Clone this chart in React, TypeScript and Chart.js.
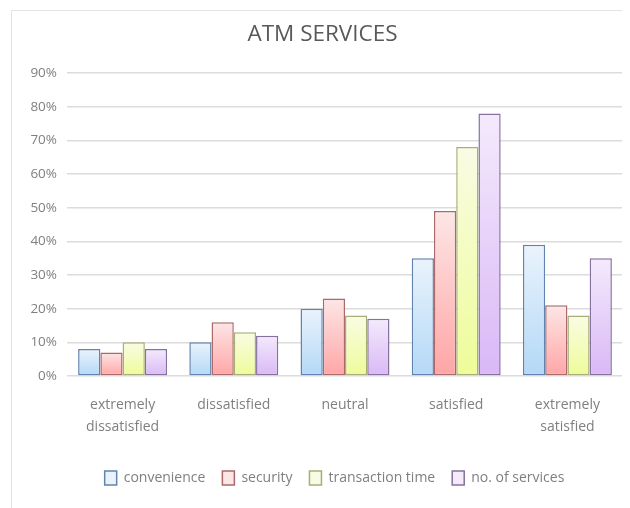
import React, { useEffect, useRef } from "react";
import { Chart, registerables } from "chart.js";

Chart.register(...registerables);

const categories: (string | string[])[] = [
  ["extremely", "dissatisfied"],
  "dissatisfied",
  "neutral",
  "satisfied",
  ["extremely", "satisfied"],
];
const seriesNames = ["convenience", "security", "transaction time", "no. of services"];
const convenience = [8, 10, 20, 35, 39];
const security = [7, 16, 23, 49, 21];
const transactionTime = [10, 13, 18, 68, 18];
const noOfServices = [8, 12, 17, 78, 35];
const yTicks = [0, 10, 20, 30, 40, 50, 60, 70, 80, 90];

const topColors = ["#eaf3fc", "#fde6e6", "#f9fce4", "#f4eafc"];
const bottomColors = ["#b3d8f6", "#ffa5a5", "#eefc98", "#d9b8f6"];
const borderColors = ["#6283ad", "#a86a6a", "#a9ad78", "#85729f"];

const TEXT = "#7f7f7f";
const FONT = "'Open Sans', 'DejaVu Sans', sans-serif";

const legendShift = {
  id: "legendShift",
  afterLayout(chart: any) {
    if (chart.legend) {
      chart.legend.left += 12;
      chart.legend.right += 12;
    }
  },
};

export default function App() {
  const ref = useRef<HTMLCanvasElement>(null);
  useEffect(() => {
    const canvas = ref.current!;
    const seriesData = [convenience, security, transactionTime, noOfServices];
    const gradBg = (i: number) => (ctx: any) => {
      const chart = ctx.chart;
      const y = chart.scales?.y;
      if (!y || ctx.type !== "data") return bottomColors[i];
      const v = ctx.raw as number;
      const top = y.getPixelForValue(v);
      const base = y.getPixelForValue(0);
      if (!isFinite(top) || !isFinite(base) || top === base) return bottomColors[i];
      const g = chart.ctx.createLinearGradient(0, top, 0, base);
      g.addColorStop(0, topColors[i]);
      g.addColorStop(1, bottomColors[i]);
      return g;
    };
    const chart = new Chart(canvas, {
      type: "bar",
      data: {
        labels: categories,
        datasets: seriesNames.map((name, i) => ({
          label: name,
          data: seriesData[i],
          backgroundColor: gradBg(i),
          borderColor: borderColors[i],
          borderWidth: 1.5,
          borderSkipped: false,
          barPercentage: 1.0,
          categoryPercentage: 0.8,
        })),
      },
      plugins: [legendShift],
      options: {
        animation: false,
        responsive: false,
        devicePixelRatio: 1,
        layout: { padding: { left: 10, right: 7, top: 0, bottom: 12 } },
        plugins: {
          title: {
            display: true,
            text: "ATM SERVICES",
            color: "#595959",
            font: { family: FONT, size: 22.5, weight: "normal" as any },
            padding: { top: 10, bottom: 25 },
          },
          legend: {
            position: "bottom",
            labels: {
              color: TEXT,
              font: { family: FONT, size: 14 },
              boxWidth: 12,
              boxHeight: 14,
              padding: 17,
              generateLabels: () =>
                seriesNames.map((name, i) => ({
                  text: name,
                  fillStyle: topColors[i],
                  strokeStyle: borderColors[i],
                  lineWidth: 1.5,
                  fontColor: TEXT,
                  datasetIndex: i,
                  hidden: false,
                })),
            },
          },
          tooltip: { enabled: false },
        },
        scales: {
          x: {
            grid: { display: false },
            border: { display: false },
            afterFit: (s: any) => {
              s.height += 6;
            },
            ticks: {
              color: TEXT,
              font: { family: FONT, size: 14, lineHeight: 1.57 },
              padding: 10,
              maxRotation: 0,
              autoSkip: false,
            },
          },
          y: {
            min: 0,
            max: 90,
            afterFit: (s: any) => {
              s.width = 45;
            },
            afterBuildTicks: (s: any) => {
              s.ticks = yTicks.map((v) => ({ value: v }));
            },
            grid: { color: "#dcdcdc", lineWidth: 1.5, drawTicks: false },
            border: { display: false },
            ticks: {
              color: TEXT,
              font: { family: FONT, size: 13.5 },
              padding: 10,
              callback: (v: any) => v + "%",
            },
          },
        },
      },
    });
    return () => chart.destroy();
  }, []);
  return (
    <div style={{ width: 622, height: 500, overflow: "hidden" }}>
      <div
        style={{
          marginLeft: 3,
          marginTop: 2,
          width: 660,
          height: 540,
          border: "1px solid #e3e3e3",
          position: "relative",
        }}
      >
        <canvas
          ref={ref}
          width={618}
          height={496}
          style={{ position: "absolute", left: 0, top: 0, width: 618, height: 496 }}
        />
      </div>
    </div>
  );
}
